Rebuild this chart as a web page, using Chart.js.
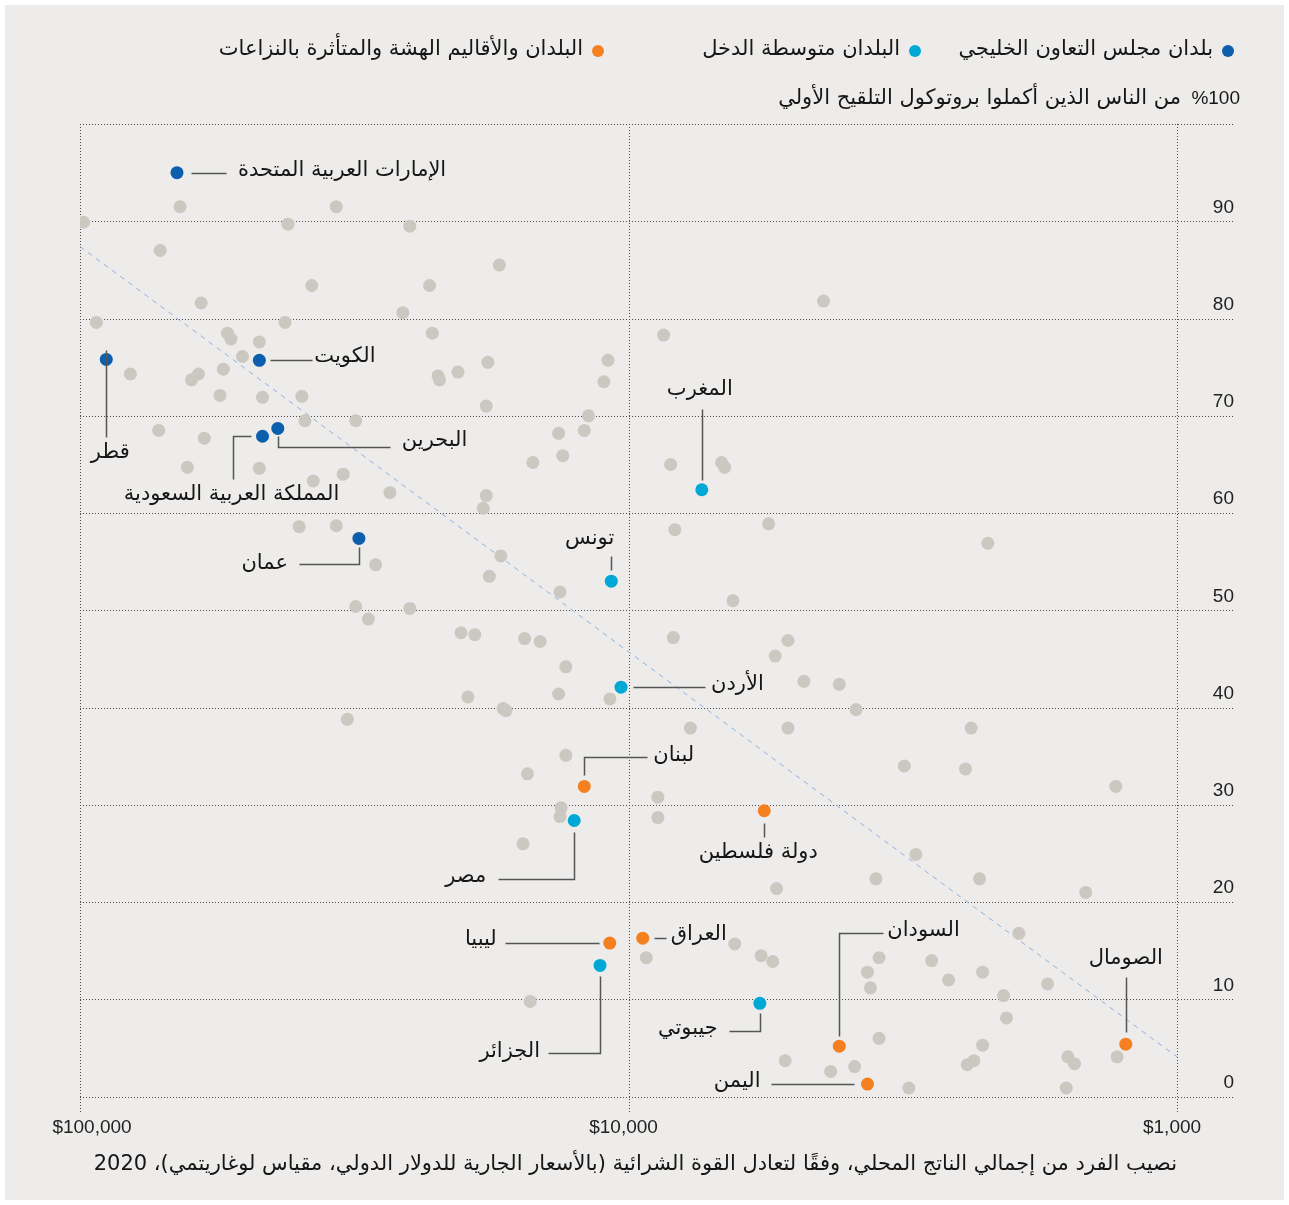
<!DOCTYPE html>
<html><head><meta charset="utf-8">
<script src="https://cdn.jsdelivr.net/npm/chart.js@4.4.0/dist/chart.umd.min.js"></script>
<style>html,body{margin:0;padding:0;background:#fff;}#wrap{width:1289px;height:1205px;position:relative;}</style>
</head><body><div id="wrap"><canvas id="c" width="1289" height="1205"></canvas></div>
<script>
// ---------- DATA ----------
const grayGdp = [
 65700, 34100, 98500, 41770, 25050, 71400, 17200, 37800, 23050, 60140,
 4410, 25790, 93350, 42290, 8630, 22790, 53830, 53060, 47100, 50560,
 18050, 10900, 80930, 60810, 62600, 54780, 22250, 22110, 20460, 11090,
 55560, 46480, 39400, 18170, 11830, 38900, 31430, 71860, 59350, 13410,
 12040, 14940, 13180, 63710, 47100, 33130, 37560, 27230, 18170, 18400,
 8380, 6766, 6680, 39850, 34100, 8230, 5555, 2213, 28900, 17090,
 17940, 13330, 6450, 31430, 25050, 29800, 20200, 19060, 15470, 14490,
 8285, 5120, 5403, 13010, 4791, 4128, 19620, 13410, 10810, 16930,
 16720, 3847, 32550, 7713, 5120, 2373, 13010, 15280, 3142, 2431,
 1293, 8840, 8840, 13270, 13330, 15570, 2993, 3540, 2291, 5370,
 1467, 1942, 6403, 9281, 5730, 5458, 3493, 2801, 3667, 2262,
 3622, 2609, 1722, 2071, 15110, 2046, 3493, 2262, 5181, 3870,
 4279, 2412, 2346, 1581, 1538, 1286, 3083, 1592];
const grayPct = [
 91.5, 91.5, 89.9, 89.7, 89.5, 87.0, 85.5, 83.4, 83.4, 81.6,
 81.8, 80.6, 79.6, 79.6, 78.3, 78.5, 78.5, 77.9, 77.6, 76.1,
 75.5, 75.7, 74.3, 74.3, 73.7, 74.8, 74.1, 73.7, 74.5, 73.5,
 72.1, 71.9, 72.0, 71.0, 70.0, 69.5, 69.5, 68.5, 67.7, 68.2,
 68.5, 65.2, 65.9, 64.7, 64.6, 64.0, 63.3, 62.1, 61.8, 60.5,
 65.0, 65.2, 64.7, 58.6, 58.7, 58.3, 58.9, 56.9, 54.7, 55.6,
 53.5, 51.9, 51.0, 50.4, 50.2, 49.1, 47.7, 47.5, 47.1, 46.8,
 47.2, 46.9, 45.3, 44.2, 42.7, 42.4, 41.1, 41.4, 40.9, 39.9,
 39.7, 39.8, 38.8, 37.9, 37.9, 37.9, 35.1, 33.2, 34.0, 33.7,
 31.9, 30.8, 28.7, 29.7, 28.8, 26.0, 24.9, 22.4, 22.4, 21.4,
 21.0, 16.8, 15.7, 14.3, 14.5, 13.9, 14.3, 14.0, 12.8, 12.8,
 11.2, 12.0, 11.6, 10.4, 9.8, 8.1, 6.0, 5.3, 3.7, 3.1,
 2.6, 3.3, 3.7, 4.1, 3.4, 4.1, 0.9, 0.9];

const gccNames = ["الإمارات العربية المتحدة","قطر","الكويت","البحرين","المملكة العربية السعودية","عمان"];
const gccGdp   = [66560, 89560, 47100, 43590, 46480, 31010];
const gccPct   = [95.0, 75.8, 75.7, 68.7, 67.9, 57.4];

const midNames = ["المغرب","تونس","الأردن","مصر","الجزائر","جيبوتي"];
const midGdp   = [7352, 10750, 10320, 12560, 11270, 5762];
const midPct   = [62.4, 53.0, 42.1, 28.4, 13.5, 9.6];

const fragNames = ["لبنان","دولة فلسطين","ليبيا","العراق","السودان","الصومال","اليمن"];
const fragGdp   = [12040, 5656, 10820, 9421, 4128, 1240, 3667];
const fragPct   = [31.9, 29.4, 15.8, 16.3, 5.2, 5.4, 1.3];

const trendGdp = [100000, 1000];
const trendPct = [87.4, 4.1];

const groupNames = ["بلدان مجلس التعاون الخليجي","البلدان متوسطة الدخل","البلدان والأقاليم الهشة والمتأثرة بالنزاعات"];
const yTicks = [0,10,20,30,40,50,60,70,80,90];
const xTicks = [100000, 10000, 1000];
const xTickLabels = ["$100,000","$10,000","$1,000"];
const yTitleNum = "%100";
const yTitle = "من الناس الذين أكملوا بروتوكول التلقيح الأولي";
const xTitle = "نصيب الفرد من إجمالي الناتج المحلي، وفقًا لتعادل القوة الشرائية (بالأسعار الجارية للدولار الدولي، مقياس لوغاريتمي)، 2020";

// ---------- STYLE / LAYOUT ----------
const COL_GCC = '#0c5fad', COL_MID = '#00a8d6', COL_FRAG = '#f4801f', COL_GRAY = '#cbc7c1';
const AR_FONT = "'DejaVu Sans', sans-serif";
const NUM_FONT = "'Liberation Sans', Arial, sans-serif";
const labelLayout = {
 "الإمارات العربية المتحدة": {path:[[14,0],[49,0]], t:[61,-2], a:'left'},
 "الكويت": {path:[[11,0],[53,0]], t:[55,-4], a:'left'},
 "قطر": {path:[[0,-9],[0,78]], t:[4,93], a:'center'},
 "المملكة العربية السعودية": {path:[[-12,0],[-30,0],[-30,43]], t:[-31,58], a:'center'},
 "البحرين": {path:[[0,8],[0,19],[112,19]], t:[124,12], a:'left'},
 "عمان": {path:[[0,9],[0,26],[-60,26]], t:[-71,25], a:'right'},
 "المغرب": {path:[[0,-10],[0,-81]], t:[-2,-100], a:'center'},
 "تونس": {path:[[0,-11],[0,-25]], t:[3,-43], a:'right'},
 "الأردن": {path:[[12,0],[84,0]], t:[90,-3], a:'left'},
 "لبنان": {path:[[0,-11],[0,-29],[63,-29]], t:[69,-31], a:'left'},
 "دولة فلسطين": {path:[[0,12],[0,26]], t:[-6,42], a:'center'},
 "مصر": {path:[[0,12],[0,59],[-76,59]], t:[-88,56], a:'right'},
 "ليبيا": {path:[[-11,0],[-105,0]], t:[-113,-3], a:'right'},
 "الجزائر": {path:[[0,11],[0,88],[-52,88]], t:[-60,86], a:'right'},
 "العراق": {path:[[11,0],[23,0]], t:[28,-4], a:'left'},
 "جيبوتي": {path:[[0,10],[0,28],[-31,28]], t:[-42,25], a:'right'},
 "السودان": {path:[[0,-10],[0,-113],[44,-113]], t:[48,-116], a:'left'},
 "الصومال": {path:[[0,-12],[0,-67]], t:[0,-86], a:'center'},
 "اليمن": {path:[[-13,0],[-96,0]], t:[-107,-3], a:'right'}
};

const toPts = (xs, ys) => xs.map((x,i)=>({x, y: ys[i]}));

const decor = {
  id: 'decor',
  beforeDraw(chart){
    const ctx = chart.ctx;
    ctx.save();
    ctx.fillStyle = '#ffffff'; ctx.fillRect(0,0,chart.width,chart.height);
    ctx.fillStyle = '#edeceb'; ctx.fillRect(5,5,chart.width-10,chart.height-10);
    ctx.restore();
  },
  beforeDatasetsDraw(chart){
    const ctx = chart.ctx, a = chart.chartArea, xs = chart.scales.x, ys = chart.scales.y;
    ctx.save();
    ctx.strokeStyle = '#4a4a4a'; ctx.lineWidth = 1; ctx.setLineDash([1,2]);
    [...yTicks, 100].forEach(v => {
      const y = Math.round(ys.getPixelForValue(v)) + 0.5;
      ctx.beginPath(); ctx.moveTo(a.left, y); ctx.lineTo(a.right, y); ctx.stroke();
    });
    xTicks.forEach(v => {
      const x = Math.round(xs.getPixelForValue(v)) + 0.5;
      ctx.beginPath(); ctx.moveTo(x, a.top); ctx.lineTo(x, a.bottom); ctx.stroke();
    });
    ctx.restore();
  },
  afterDatasetsDraw(chart){
    const ctx = chart.ctx, a = chart.chartArea, xs = chart.scales.x, ys = chart.scales.y;
    ctx.save();
    const groups = [[gccNames,gccGdp,gccPct],[midNames,midGdp,midPct],[fragNames,fragGdp,fragPct]];
    ctx.setLineDash([]);
    groups.forEach(([names,gx,gy]) => names.forEach((n,i) => {
      const L = labelLayout[n]; if(!L) return;
      const px = xs.getPixelForValue(gx[i]), py = ys.getPixelForValue(gy[i]);
      ctx.strokeStyle = '#555'; ctx.lineWidth = 1.5;
      ctx.beginPath();
      L.path.forEach(([dx,dy],k) => { const X = Math.round(px+dx)+0.5, Y = Math.round(py+dy)+0.5; k? ctx.lineTo(X,Y) : ctx.moveTo(X,Y); });
      ctx.stroke();
      ctx.fillStyle = '#161616'; ctx.font = '21px ' + AR_FONT; ctx.direction = 'rtl';
      ctx.textAlign = L.a; ctx.textBaseline = 'middle';
      ctx.fillText(n, px + L.t[0], py + L.t[1]);
    }));
    // y tick labels
    ctx.direction = 'ltr'; ctx.fillStyle = '#222'; ctx.font = '19px ' + NUM_FONT;
    ctx.textAlign = 'right'; ctx.textBaseline = 'middle';
    yTicks.forEach(v => ctx.fillText(String(v), a.right - 1, ys.getPixelForValue(v) - 14));
    // x tick labels
    const xOff = [12, -5, -5];
    ctx.textAlign = 'center';
    xTicks.forEach((v,i) => ctx.fillText(xTickLabels[i], xs.getPixelForValue(v) + xOff[i], a.bottom + 16));
    // y title number
    ctx.textAlign = 'right'; ctx.fillStyle = '#161616';
    ctx.fillText(yTitleNum, a.right + 5, a.top - 25);
    // x title
    ctx.direction = 'rtl'; ctx.font = '21px ' + AR_FONT; ctx.textAlign = 'right';
    ctx.fillText(xTitle, xs.getPixelForValue(1000), a.bottom + 53);
    // y title text
    ctx.fillText(yTitle, a.right - 54, a.top - 25);
    // legend
    const legX = [1228, 915, 598], cols = [COL_GCC, COL_MID, COL_FRAG];
    groupNames.forEach((g,i) => {
      ctx.fillStyle = cols[i]; ctx.beginPath(); ctx.arc(legX[i], 51, 6, 0, Math.PI*2); ctx.fill();
      ctx.fillStyle = '#161616'; ctx.fillText(g, legX[i] - 15, 50);
    });
    ctx.restore();
  }
};

new Chart(document.getElementById('c'), {
  data: {
    datasets: [
      {type:'line', data: toPts(trendGdp, trendPct), borderColor:'#8fb0e3', borderWidth:1, borderDash:[5,5], pointRadius:0, order:6},
      {type:'scatter', data: toPts(grayGdp, grayPct), backgroundColor: COL_GRAY, pointRadius:6.5, pointHoverRadius:6.5, borderWidth:0, order:5},
      {type:'scatter', data: toPts(gccGdp, gccPct), backgroundColor: COL_GCC, pointRadius:6.5, pointHoverRadius:6.5, borderWidth:0, order:1},
      {type:'scatter', data: toPts(midGdp, midPct), backgroundColor: COL_MID, pointRadius:6.5, pointHoverRadius:6.5, borderWidth:0, order:1},
      {type:'scatter', data: toPts(fragGdp, fragPct), backgroundColor: COL_FRAG, pointRadius:6.5, pointHoverRadius:6.5, borderWidth:0, order:1}
    ]
  },
  options: {
    responsive:false, animation:false, events:[],
    layout:{padding:{left:80, right:54, top:124, bottom:93}},
    plugins:{legend:{display:false}, tooltip:{enabled:false}},
    scales:{
      x:{type:'logarithmic', reverse:true, min:784, max:100000, display:false},
      y:{type:'linear', min:-1.57, max:100, display:false}
    }
  },
  plugins:[decor]
});
</script></body></html>
